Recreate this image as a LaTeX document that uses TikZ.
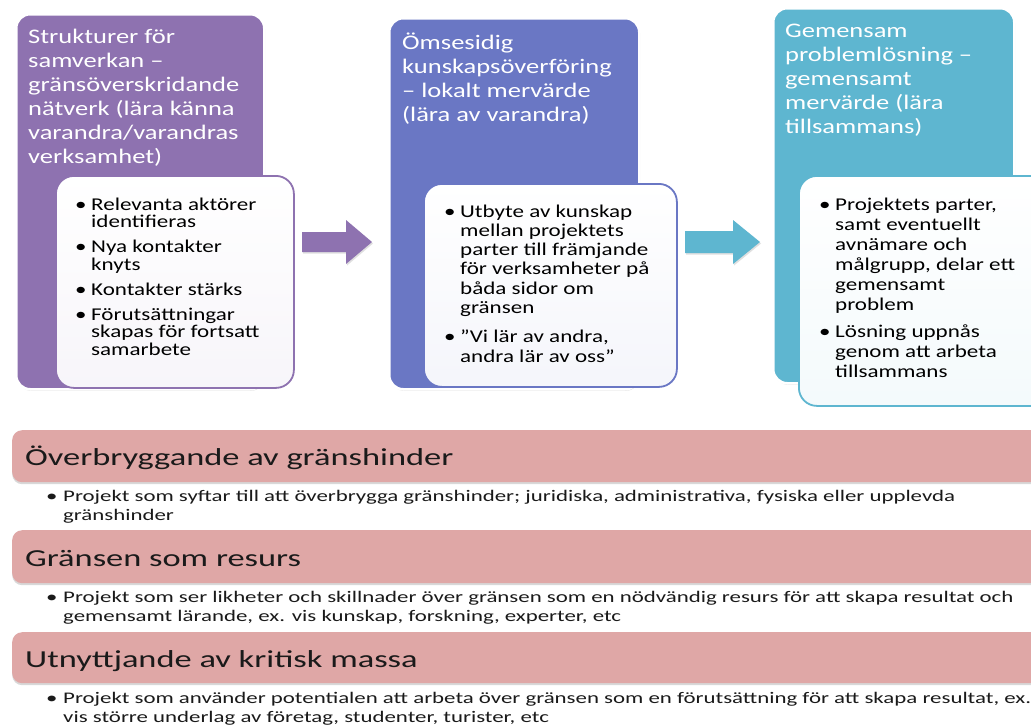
\documentclass[tikz,border=0pt]{standalone}
\usepackage{fontspec}
\setmainfont{Carlito}
\newfontfamily\topfont[FakeStretch=1.28]{Carlito}
\newfontfamily\botfont[FakeStretch=1.41]{Carlito}
\usetikzlibrary{shadows}
\definecolor{cpurple}{HTML}{8E72B0}
\definecolor{cblue}{HTML}{6A77C4}
\definecolor{cteal}{HTML}{5EB6D0}
\definecolor{barpink}{HTML}{DFA7A6}
\definecolor{txtdark}{HTML}{1A1A1A}
\newcommand\mybul{\makebox[14pt][l]{\hspace*{-2pt}•}}
\newcommand\myind{\hspace*{14pt}}
\newcommand\mybulb{\makebox[17pt][l]{•}}
\newcommand\myindb{\hspace*{17pt}}
\begin{document}
\begin{tikzpicture}[x=1pt,y=-1pt,
  outerbox/.style={draw=white, line width=2.5pt, rounded corners=14pt, anchor=north west, inner sep=0pt,
    drop shadow={opacity=0.25, shadow xshift=0.8pt, shadow yshift=-1.5pt}},
  innerbox/.style={line width=1.8pt, rounded corners=18pt, anchor=north west, inner sep=0pt},
  titletext/.style={anchor=base west, inner sep=0pt, text=white, font=\topfont\fontsize{20.7}{24}\selectfont},
  listtext/.style={anchor=base west, inner sep=0pt, text=black, font=\topfont\fontsize{18}{17.8}\selectfont},
  bar/.style={fill=barpink, rounded corners=10pt, anchor=north west, inner sep=0pt,
    drop shadow={opacity=0.3, shadow xshift=0pt, shadow yshift=-2pt}},
  headtext/.style={anchor=base west, inner sep=0pt, text=txtdark, font=\botfont\fontsize{24.4}{28}\selectfont},
  bultext/.style={anchor=base west, inner sep=0pt, text=txtdark, font=\botfont\fontsize{16.2}{19.2}\selectfont},
  arrowshape/.style={drop shadow={opacity=0.25, shadow xshift=1pt, shadow yshift=-1.5pt}}
]
\useasboundingbox (0,0) rectangle (1031,726);
\clip (0,0) rectangle (1031,726);
\fill[white] (0,0) rectangle (1031,726);

% ---------- top boxes ----------
\node[outerbox, fill=cpurple, minimum width=248pt, minimum height=375pt] (b1) at (15,13) {};
\node[outerbox, fill=cblue, minimum width=250pt, minimum height=371pt] (b2) at (388,17) {};
\node[outerbox, fill=cteal, minimum width=241pt, minimum height=375pt] (b3) at (772,7) {};

\node[titletext] (t1) at (28,43) {\begin{tabular}[t]{@{}l@{}}Strukturer för\\samverkan –\\gränsöverskridande\\nätverk (lära känna\\varandra/varandras\\verksamhet)\end{tabular}};
\node[titletext] (t2) at (402,49) {\begin{tabular}[t]{@{}l@{}}Ömsesidig\\kunskapsöverföring\\– lokalt mervärde\\(lära av varandra)\end{tabular}};
\node[titletext] (t3) at (785,37) {\begin{tabular}[t]{@{}l@{}}Gemensam\\problemlösning –\\gemensamt\\mervärde (lära\\tillsammans)\end{tabular}};

\node[innerbox, draw=cpurple, top color=white, bottom color=cpurple!7, minimum width=238pt, minimum height=212pt] (i1) at (55,175) {};
\node[innerbox, draw=cblue, top color=white, bottom color=cblue!7, minimum width=253pt, minimum height=203pt] (i2) at (423,183) {};
\node[innerbox, draw=cteal, top color=white, bottom color=cteal!7, minimum width=250pt, minimum height=230pt] (i3) at (798,175) {};

\node[listtext] (l1) at (77,210) {\begin{tabular}[t]{@{}l@{}}\mybul Relevanta aktörer\\\myind identifieras\\[7pt]\mybul Nya kontakter\\\myind knyts\\[7pt]\mybul Kontakter stärks\\[7pt]\mybul Förutsättningar\\\myind skapas för fortsatt\\\myind samarbete\end{tabular}};
\node[listtext, font=\topfont\fontsize{18}{19.3}\selectfont] (l2) at (446,217) {\begin{tabular}[t]{@{}l@{}}\mybul Utbyte av kunskap\\\myind mellan projektets\\\myind parter till främjande\\\myind för verksamheter på\\\myind båda sidor om\\\myind gränsen\\[10pt]\mybul ”Vi lär av andra,\\\myind andra lär av oss”\end{tabular}};
\node[listtext, font=\topfont\fontsize{18}{20}\selectfont] (l3) at (821,210) {\begin{tabular}[t]{@{}l@{}}\mybul Projektets parter,\\\myind samt eventuellt\\\myind avnämare och\\\myind målgrupp, delar ett\\\myind gemensamt\\\myind problem\\[7pt]\mybul Lösning uppnås\\\myind genom att arbeta\\\myind tillsammans\end{tabular}};

% ---------- block arrows ----------
\fill[cpurple, arrowshape] (302,232) -- (346,232) -- (346,220) -- (372,242) -- (346,264) -- (346,252) -- (302,252) -- cycle;
\fill[cteal, arrowshape] (685,231) -- (733,231) -- (733,220) -- (760,242) -- (733,264) -- (733,253) -- (685,253) -- cycle;

% ---------- bottom bars ----------
\node[bar, minimum width=1060pt, minimum height=52pt] (h1) at (12,430) {};
\node[bar, minimum width=1060pt, minimum height=53pt] (h2) at (12,530) {};
\node[bar, minimum width=1060pt, minimum height=51pt] (h3) at (12,632) {};

\node[headtext] (ht1) at (25,465) {Överbryggande av gränshinder};
\node[headtext] (ht2) at (25,566) {Gränsen som resurs};
\node[headtext] (ht3) at (25,667) {Utnyttjande av kritisk massa};

\node[bultext] (bt1) at (46,501) {\begin{tabular}[t]{@{}l@{}}\mybulb Projekt som syftar till att överbrygga gränshinder; juridiska, administrativa, fysiska eller upplevda\\\myindb gränshinder\end{tabular}};
\node[bultext] (bt2) at (46,602) {\begin{tabular}[t]{@{}l@{}}\mybulb Projekt som ser likheter och skillnader över gränsen som en nödvändig resurs för att skapa resultat och\\\myindb gemensamt lärande, ex. vis kunskap, forskning, experter, etc\end{tabular}};
\node[bultext] (bt3) at (46,703) {\begin{tabular}[t]{@{}l@{}}\mybulb Projekt som använder potentialen att arbeta över gränsen som en förutsättning för att skapa resultat, ex.\\\myindb vis större underlag av företag, studenter, turister, etc\end{tabular}};
\end{tikzpicture}
\end{document}
